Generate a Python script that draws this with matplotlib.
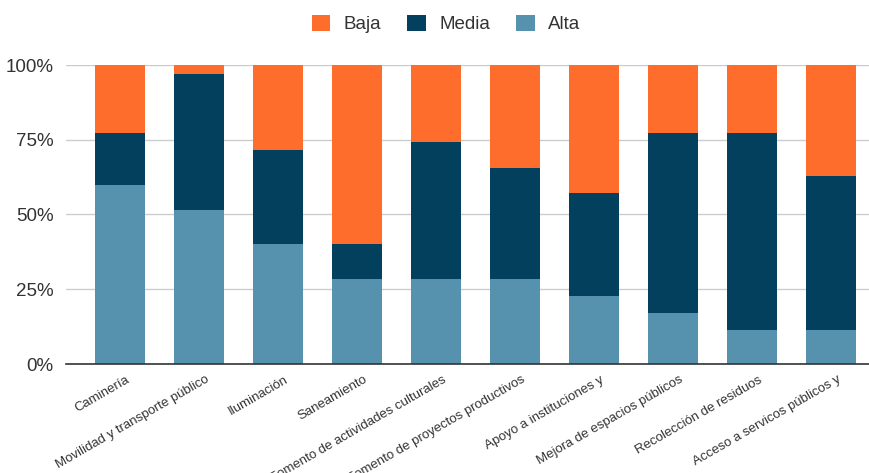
import numpy as np
import matplotlib
matplotlib.use("Agg")
import matplotlib.pyplot as plt
import matplotlib.transforms as mtransforms
from matplotlib.ticker import PercentFormatter

plt.rcParams["font.family"] = ["Liberation Sans", "DejaVu Sans"]

# responses per priority level, 35 per category
categories = [
    "Caminería",
    "Movilidad y transporte público",
    "Iluminación",
    "Saneamiento",
    "Fomento de actividades culturales",
    "Fomento de proyectos productivos",
    "Apoyo a instituciones y",
    "Mejora de espacios públicos",
    "Recolección de residuos",
    "Acceso a servicos públicos y",
]
alta = np.array([21, 18, 14, 10, 10, 10, 8, 6, 4, 4])
media = np.array([6, 16, 11, 4, 16, 13, 12, 21, 23, 18])
baja = np.array([8, 1, 10, 21, 9, 12, 15, 8, 8, 13])

COLOR_BAJA = "#ff6d2d"
COLOR_MEDIA = "#02405e"
COLOR_ALTA = "#5691ad"
TEXT_COLOR = "#333333"

total = alta + media + baja
p_alta = alta / total
p_media = media / total
p_baja = baja / total

fig = plt.figure(figsize=(8.69, 4.73), dpi=100)
ax = fig.add_axes([66 / 869, 1 - 364 / 473, 1 - 66 / 869, (364 - 65) / 473])

x = np.arange(len(categories))
w = 50 / 79
ax.bar(x, p_alta, width=w, color=COLOR_ALTA, label="Alta", zorder=3)
ax.bar(x, p_media, width=w, bottom=p_alta, color=COLOR_MEDIA, label="Media", zorder=3)
ax.bar(x, p_baja, width=w, bottom=p_alta + p_media, color=COLOR_BAJA, label="Baja", zorder=3)

ax.set_xlim(-54 / 79, (869 - 120) / 79)
ax.set_ylim(0, 1)
ax.set_yticks([0, 0.25, 0.5, 0.75, 1.0])
ax.yaxis.set_major_formatter(PercentFormatter(1.0, decimals=0))
ax.grid(axis="y", color="#cccccc", linewidth=1, zorder=0)
for s in ("top", "right", "left"):
    ax.spines[s].set_visible(False)
ax.spines["bottom"].set_color(TEXT_COLOR)
ax.spines["bottom"].set_linewidth(1.2)
ax.spines["bottom"].set_zorder(4)
ax.tick_params(axis="y", length=0, labelsize=13.5, labelcolor=TEXT_COLOR, pad=9)
ax.tick_params(axis="x", length=0, pad=7)

ax.set_xticks(x)
ax.set_xticklabels(categories, rotation=30, ha="right", rotation_mode="anchor",
                   fontsize=9.5, color=TEXT_COLOR)
# nudge the slanted labels a bit to the right so they end near the bar center
shift = mtransforms.ScaledTranslation(6 / 100, 0, fig.dpi_scale_trans)
for lbl in ax.get_xticklabels():
    lbl.set_transform(lbl.get_transform() + shift)

handles, labels = ax.get_legend_handles_labels()
order = [2, 1, 0]
fig.legend([handles[i] for i in order], [labels[i] for i in order],
           loc="center", bbox_to_anchor=(446 / 869, 1 - 24 / 473), ncol=3, frameon=False,
           fontsize=13.5, handlelength=1.0, handleheight=1.0, columnspacing=1.4,
           handletextpad=0.7, labelcolor=TEXT_COLOR)

fig.savefig("out.png", dpi=100)
